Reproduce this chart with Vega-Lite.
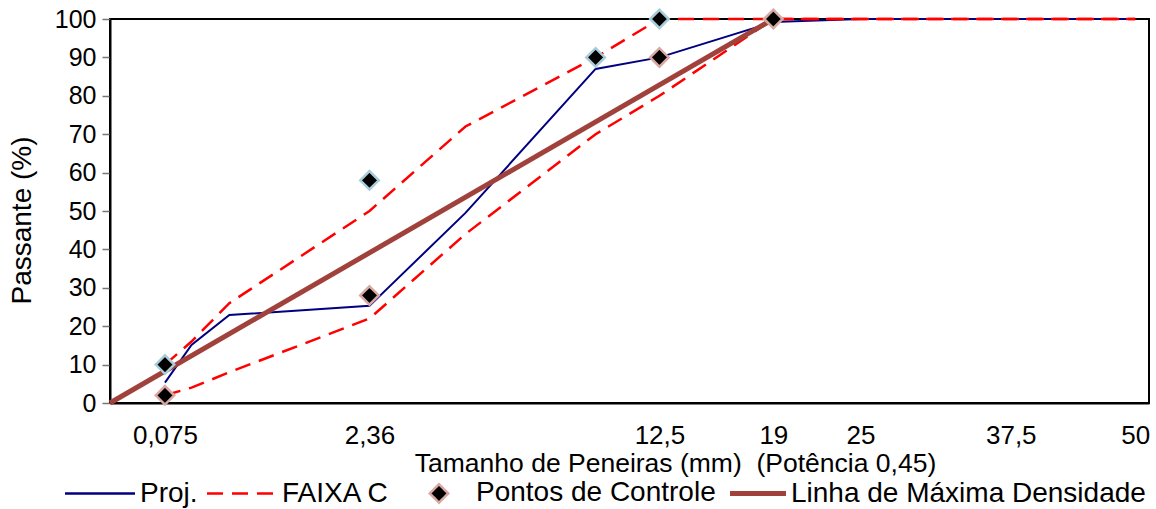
{
  "$schema": "https://vega.github.io/schema/vega-lite/v6.json",
  "width": 1039,
  "height": 384,
  "autosize": {"type": "none"},
  "padding": {"left": 110, "top": 19, "right": 7, "bottom": 106},
  "background": "white",
  "config": {
    "font": "Liberation Sans",
    "view": {"stroke": "black", "strokeWidth": 2},
    "axis": {"grid": false, "labelFont": "Liberation Sans", "titleFont": "Liberation Sans", "labelColor": "black", "titleColor": "black", "titleFontWeight": "normal"}
  },
  "datasets": {
    "proj": [
      {"serie": "Proj.", "tam": 0.075, "pass": 5.3},
      {"serie": "Proj.", "tam": 0.18, "pass": 15.1},
      {"serie": "Proj.", "tam": 0.42, "pass": 22.9},
      {"serie": "Proj.", "tam": 2.36, "pass": 25.3},
      {"serie": "Proj.", "tam": 4.75, "pass": 49.5},
      {"serie": "Proj.", "tam": 9.5, "pass": 87.0},
      {"serie": "Proj.", "tam": 12.5, "pass": 90.0},
      {"serie": "Proj.", "tam": 19, "pass": 99.2},
      {"serie": "Proj.", "tam": 25, "pass": 100},
      {"serie": "Proj.", "tam": 37.5, "pass": 100},
      {"serie": "Proj.", "tam": 50, "pass": 100}
    ],
    "faixa": [
      {"serie": "FAIXA C", "limite": "superior", "tam": 0.075, "pass": 10},
      {"serie": "FAIXA C", "limite": "superior", "tam": 0.18, "pass": 16},
      {"serie": "FAIXA C", "limite": "superior", "tam": 0.42, "pass": 26},
      {"serie": "FAIXA C", "limite": "superior", "tam": 2.36, "pass": 50},
      {"serie": "FAIXA C", "limite": "superior", "tam": 4.75, "pass": 72},
      {"serie": "FAIXA C", "limite": "superior", "tam": 9.5, "pass": 90},
      {"serie": "FAIXA C", "limite": "superior", "tam": 12.5, "pass": 100},
      {"serie": "FAIXA C", "limite": "superior", "tam": 19, "pass": 100},
      {"serie": "FAIXA C", "limite": "superior", "tam": 25, "pass": 100},
      {"serie": "FAIXA C", "limite": "superior", "tam": 37.5, "pass": 100},
      {"serie": "FAIXA C", "limite": "superior", "tam": 50, "pass": 100},
      {"serie": "FAIXA C", "limite": "inferior", "tam": 0.075, "pass": 2},
      {"serie": "FAIXA C", "limite": "inferior", "tam": 0.18, "pass": 4},
      {"serie": "FAIXA C", "limite": "inferior", "tam": 0.42, "pass": 8},
      {"serie": "FAIXA C", "limite": "inferior", "tam": 2.36, "pass": 22},
      {"serie": "FAIXA C", "limite": "inferior", "tam": 4.75, "pass": 44},
      {"serie": "FAIXA C", "limite": "inferior", "tam": 9.5, "pass": 70},
      {"serie": "FAIXA C", "limite": "inferior", "tam": 12.5, "pass": 80},
      {"serie": "FAIXA C", "limite": "inferior", "tam": 19, "pass": 100},
      {"serie": "FAIXA C", "limite": "inferior", "tam": 25, "pass": 100},
      {"serie": "FAIXA C", "limite": "inferior", "tam": 37.5, "pass": 100},
      {"serie": "FAIXA C", "limite": "inferior", "tam": 50, "pass": 100}
    ],
    "mld": [
      {"serie": "Linha de Máxima Densidade", "tam": 0, "pass": 0},
      {"serie": "Linha de Máxima Densidade", "tam": 19, "pass": 100}
    ],
    "pontos": [
      {"grupo": "superior", "tam": 0.075, "pass": 10},
      {"grupo": "superior", "tam": 2.36, "pass": 58},
      {"grupo": "superior", "tam": 9.5, "pass": 90},
      {"grupo": "superior", "tam": 12.5, "pass": 100},
      {"grupo": "inferior", "tam": 0.075, "pass": 2},
      {"grupo": "inferior", "tam": 2.36, "pass": 28},
      {"grupo": "inferior", "tam": 12.5, "pass": 90},
      {"grupo": "inferior", "tam": 19, "pass": 100}
    ]
  },
  "encoding": {
    "x": {
      "field": "tam", "type": "quantitative",
      "scale": {"type": "pow", "exponent": 0.45, "domain": [0, 51.5], "nice": false, "zero": true},
      "axis": {
        "title": "Tamanho de Peneiras (mm)\u00a0 (Potência 0,45)",
        "values": [0.075, 2.36, 12.5, 19, 25, 37.5, 50],
        "labelExpr": "replace(toString(datum.value), '.', ',')",
        "labelFontSize": 26, "labelPadding": 19, "ticks": false, "tickSize": 0,
        "labelAlign": "center", "labelFlush": false, "labelOverlap": false,
        "domainColor": "black", "domainWidth": 2,
        "titleFontSize": 26.5, "titleX": 565, "titleY": 68, "titleBaseline": "alphabetic", "titleAlign": "center", "titleAnchor": null
      }
    },
    "y": {
      "field": "pass", "type": "quantitative",
      "scale": {"domain": [0, 100], "nice": false},
      "axis": {
        "title": "Passante (%)",
        "values": [0, 10, 20, 30, 40, 50, 60, 70, 80, 90, 100],
        "labelFontSize": 25, "labelPadding": 6, "tickSize": 8, "tickColor": "#777777", "tickWidth": 1.5,
        "domainColor": "black", "domainWidth": 2,
        "titleFontSize": 28, "titleX": -88, "titleY": 201, "titleAngle": -90, "titleAlign": "center", "titleBaseline": "middle"
      }
    }
  },
  "layer": [
    {
      "data": {"name": "proj"},
      "mark": {"type": "line", "strokeWidth": 2},
      "encoding": {
        "color": {
          "field": "serie", "type": "nominal",
          "scale": {
            "domain": ["Proj.", "FAIXA C", "Pontos de Controle", "Linha de Máxima Densidade"],
            "range": ["#000080", "#FF0000", "#D8A8A2", "#A0413C"]
          },
          "legend": {
            "orient": "none", "legendX": -25, "legendY": 460, "direction": "horizontal",
            "title": null, "labelFont": "Liberation Sans", "labelFontSize": 28, "labelColor": "black",
            "labelLimit": 0, "labelOffset": 27, "columnPadding": 4, "padding": 0,
            "symbolType": "stroke", "symbolSize": 4900, "symbolStrokeWidth": 2.5,
            "encode": {
              "symbols": {
                "update": {
                  "shape": {"signal": "datum.value === 'Pontos de Controle' ? 'diamond' : 'stroke'"},
                  "size": {"signal": "datum.value === 'Pontos de Controle' ? 340 : (datum.value === 'Linha de Máxima Densidade' ? 3136 : 4900)"},
                  "x": {"signal": "datum.value === 'Pontos de Controle' ? 45 : (datum.value === 'Linha de Máxima Densidade' ? 4 : 15)"},
                  "fill": {"signal": "datum.value === 'Pontos de Controle' ? 'black' : 'transparent'"},
                  "strokeDash": {"signal": "datum.value === 'FAIXA C' ? [16, 9] : [1, 0]"},
                  "strokeWidth": {"signal": "datum.value === 'Linha de Máxima Densidade' ? 5 : 2.5"},
                  "opacity": {"value": 1}
                }
              },
              "labels": {
                "update": {
                  "dx": {"signal": "datum.value === 'Pontos de Controle' ? 27 : (datum.value === 'Linha de Máxima Densidade' ? -18 : 0)"}
                }
              }
            }
          }
        }
      }
    },
    {
      "data": {"name": "faixa"},
      "mark": {"type": "line", "strokeWidth": 2.5, "strokeDash": [16, 9]},
      "encoding": {
        "color": {"field": "serie", "type": "nominal"},
        "detail": {"field": "limite", "type": "nominal"}
      }
    },
    {
      "data": {"name": "mld"},
      "mark": {"type": "line", "strokeWidth": 5},
      "encoding": {
        "color": {"field": "serie", "type": "nominal"}
      }
    },
    {
      "data": {"name": "pontos"},
      "mark": {"type": "point", "shape": "diamond", "size": 340, "filled": false, "fill": "black", "fillOpacity": 1, "strokeWidth": 2.5, "opacity": 1},
      "encoding": {
        "stroke": {
          "field": "grupo", "type": "nominal",
          "scale": {"domain": ["superior", "inferior"], "range": ["#A8CCD8", "#D8A8A2"]},
          "legend": null
        }
      }
    }
  ]
}
